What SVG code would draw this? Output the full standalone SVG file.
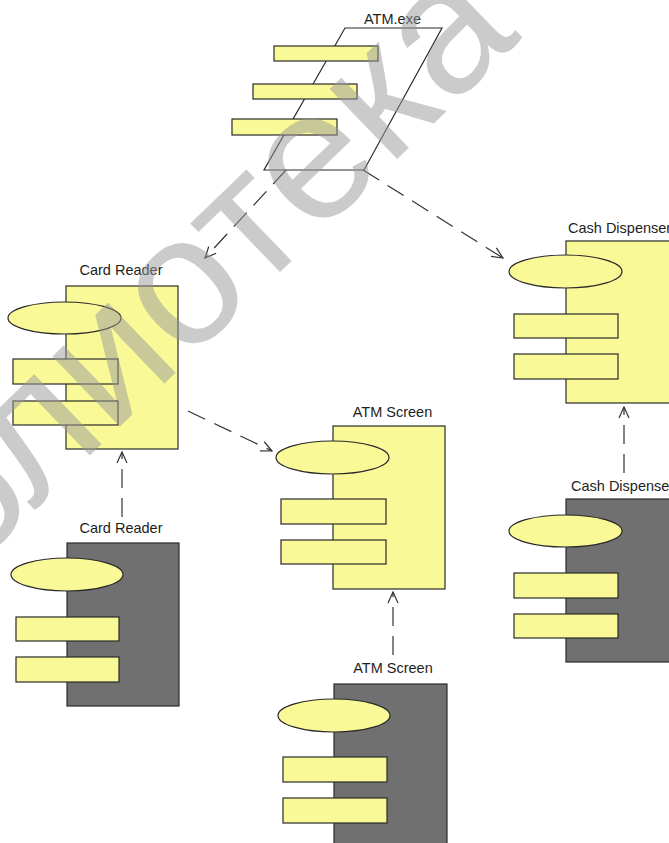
<svg xmlns="http://www.w3.org/2000/svg" width="669" height="843" viewBox="0 0 669 843">
<defs>
<style>
.lbl{font-family:"Liberation Sans",Arial,sans-serif;font-size:14.5px;fill:#1e1e1e}
.y{fill:#f9f997;stroke:#2a2a2a;stroke-width:1.2}
.g{fill:#707070;stroke:#2a2a2a;stroke-width:1.2}
.conn{fill:none;stroke:#333;stroke-width:1.2;stroke-dasharray:19,10}
.wm{font-family:"Liberation Sans",Arial,sans-serif;font-size:184px;fill:#999;opacity:0.5}
</style>
<marker id="arr" markerUnits="userSpaceOnUse" markerWidth="13" markerHeight="12" viewBox="0 0 13 12" refX="12" refY="6" orient="auto">
<path d="M1,1 L12,6 L1,11" fill="none" stroke="#333" stroke-width="1.2"/>
</marker>
</defs>
<rect width="669" height="843" fill="#fff"/>

<g id="atm-exe">
<text class="lbl" x="392.5" y="23.5" text-anchor="middle">ATM.exe</text>
<polygon points="345,28 442,28 364,170 264,170" fill="#fff" stroke="#2a2a2a" stroke-width="1.2"/>
<rect class="y" x="274" y="46" width="104" height="15"/>
<rect class="y" x="253" y="84" width="104" height="15"/>
<rect class="y" x="232" y="119" width="105" height="16"/>
</g>

<g id="card-reader-spec">
<text class="lbl" x="121" y="275" text-anchor="middle">Card Reader</text>
<rect class="y" x="66" y="286" width="112" height="163"/>
<ellipse class="y" cx="64.5" cy="318" rx="56.5" ry="16"/>
<rect class="y" x="13" y="359" width="105" height="25"/>
<rect class="y" x="13" y="401" width="105" height="24"/>
</g>

<g id="card-reader-body">
<text class="lbl" x="121" y="533" text-anchor="middle">Card Reader</text>
<rect class="g" x="67" y="543" width="112" height="163"/>
<ellipse class="y" cx="67" cy="574.5" rx="56" ry="16.5"/>
<rect class="y" x="16" y="617" width="103" height="24"/>
<rect class="y" x="16" y="657" width="103" height="25"/>
</g>

<g id="atm-screen-spec">
<text class="lbl" x="392.5" y="417" text-anchor="middle">ATM Screen</text>
<rect class="y" x="333" y="426" width="112" height="163"/>
<ellipse class="y" cx="332.5" cy="457.5" rx="56.5" ry="16.5"/>
<rect class="y" x="281" y="499" width="105" height="25"/>
<rect class="y" x="281" y="540" width="105" height="24"/>
</g>

<g id="atm-screen-body">
<text class="lbl" x="393" y="673" text-anchor="middle">ATM Screen</text>
<rect class="g" x="334" y="684" width="113" height="170"/>
<ellipse class="y" cx="334" cy="715.5" rx="56" ry="16.5"/>
<rect class="y" x="283" y="757" width="104" height="25"/>
<rect class="y" x="283" y="798" width="104" height="25"/>
</g>

<g id="cash-dispenser-spec">
<text class="lbl" x="568" y="233">Cash Dispenser</text>
<rect class="y" x="566" y="241" width="112" height="162"/>
<ellipse class="y" cx="565.5" cy="271.5" rx="56.5" ry="16.5"/>
<rect class="y" x="514" y="314" width="104" height="24"/>
<rect class="y" x="514" y="354" width="104" height="25"/>
</g>

<g id="cash-dispenser-body">
<text class="lbl" x="571" y="491">Cash Dispenser</text>
<rect class="g" x="566" y="499" width="112" height="163"/>
<ellipse class="y" cx="565.5" cy="531" rx="56.5" ry="16"/>
<rect class="y" x="514" y="573" width="104" height="25"/>
<rect class="y" x="514" y="614" width="104" height="24"/>
</g>

<g id="connectors">
<path class="conn" d="M286,170 L205,258" marker-end="url(#arr)"/>
<path class="conn" d="M363,170 L503,258" marker-end="url(#arr)"/>
<path class="conn" d="M188,411 L272,451" marker-end="url(#arr)"/>
<path class="conn" d="M122,517 L122,452" marker-end="url(#arr)"/>
<path class="conn" d="M393,655 L393,592" marker-end="url(#arr)"/>
<path class="conn" d="M624,473 L624,407" marker-end="url(#arr)"/>
</g>

<g id="watermark">
<text class="wm" transform="translate(-186,722) rotate(-44)" x="0" y="0">библиотека</text>
</g>
</svg>
